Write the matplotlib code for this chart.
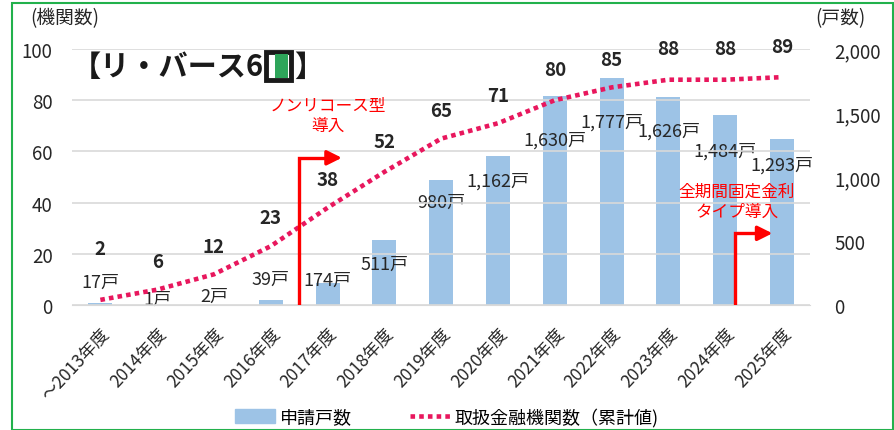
import matplotlib.pyplot as plt
from matplotlib.patches import Rectangle
from matplotlib.ticker import FuncFormatter

plt.rcParams['font.family'] = ['Noto Sans CJK JP', 'DejaVu Sans']

# data
years = ['～2013年度', '2014年度', '2015年度', '2016年度', '2017年度', '2018年度',
         '2019年度', '2020年度', '2021年度', '2022年度', '2023年度', '2024年度', '2025年度']
houses = [17, 1, 2, 39, 174, 511, 980, 1162, 1630, 1777, 1626, 1484, 1293]
banks = [2, 6, 12, 23, 38, 52, 65, 71, 80, 85, 88, 88, 89]

# label placement (right-axis units for houses, left-axis offsets for banks)
house_lab_y = [185, 45, 70, 205, 195, 320, 810, 975, 1295, 1435, 1360, 1205, 1100]
bank_lab_dy = [20, 11, 11, 11, 11, 12, 11, 11, 12, 11, 12, 12, 12]

bar_col = '#9DC3E6'
line_col = '#E8175D'
txt_col = '#262626'

W, H = 894, 431
fig = plt.figure(figsize=(W / 100, H / 100), dpi=100)
ax = fig.add_axes([0.0805, 0.29, 0.826, 0.594])
ax2 = ax.twinx()
ax.set_zorder(ax2.get_zorder() + 1)
ax.patch.set_visible(False)

x = list(range(len(years)))

# bars on right axis
ax2.bar(x, houses, width=0.42, color=bar_col, zorder=2)
ax2.set_ylim(0, 2000)
ax2.set_yticks([0, 500, 1000, 1500, 2000])
ax2.yaxis.set_major_formatter(FuncFormatter(lambda v, p: f'{int(v):,}'))

# line on left axis
dots = (0, (1, 0.9))
ax.plot(x, banks, color=line_col, lw=3.3, linestyle=dots,
        dash_capstyle='butt', zorder=3)
ax.set_ylim(0, 100)
ax.set_yticks([0, 20, 40, 60, 80, 100])
ax.set_xlim(-0.5, len(years) - 0.5)
ax.grid(axis='y', color='#D9D9D9', lw=1.2)
ax.set_axisbelow(True)

for a in (ax, ax2):
    for s in a.spines.values():
        s.set_visible(False)
    a.tick_params(length=0, labelsize=13.5, colors=txt_col)
ax.tick_params(axis='y', pad=14)
ax2.tick_params(axis='y', pad=17)
ax.spines['bottom'].set_visible(True)
ax.spines['bottom'].set_color('#D9D9D9')

ax.set_xticks(x)
ax.set_xticklabels(years, rotation=47, ha='right', va='top',
                   rotation_mode='anchor', fontsize=12.5)
ax.tick_params(axis='x', pad=14)

# data labels
for i in x:
    ax.text(i, banks[i] + bank_lab_dy[i], str(banks[i]), ha='center', va='center',
            fontsize=13.5, fontweight='bold', color=txt_col, zorder=5)
    ax2.text(i, house_lab_y[i], f'{houses[i]:,}戸', ha='center', va='center',
             fontsize=13, color=txt_col, zorder=5)

# red arrows
ax.plot([3.5, 3.5, 4.05], [0, 57.5, 57.5], color='red', lw=2.4, zorder=4,
        solid_joinstyle='miter')
ax.annotate('', xy=(4.3, 57.5), xytext=(4.0, 57.5),
            arrowprops=dict(arrowstyle='-|>', color='red', lw=2.4,
                            mutation_scale=22))
ax.text(4.0, 74, 'ノンリコース型\n導入', ha='center', va='center', color='red',
        fontsize=12, linespacing=1.25)

ax.plot([11.17, 11.17, 11.6], [0, 28, 28], color='red', lw=2.4, zorder=4,
        solid_joinstyle='miter')
ax.annotate('', xy=(11.88, 28), xytext=(11.55, 28),
            arrowprops=dict(arrowstyle='-|>', color='red', lw=2.4,
                            mutation_scale=22))
ax.text(11.2, 40.5, '全期間固定金利\nタイプ導入', ha='center', va='center', color='red',
        fontsize=12, linespacing=1.25)

# axis titles
fig.text(30 / W, 1 - 19 / H, '(機関数)', ha='left', va='center', fontsize=13.5,
         color=txt_col)
fig.text(815 / W, 1 - 19 / H, '(戸数)', ha='left', va='center', fontsize=13.5,
         color=txt_col)

# logo: text + door-shaped "0"
logo_y = 1 - 67 / H
fig.text(72 / W, logo_y, '【リ・バース6', ha='left', va='center', fontsize=21,
         fontweight='bold', color='#1A1A1A')
fig.patches.append(Rectangle((266 / W, 1 - 81 / H), 25 / W, 28 / H,
                             transform=fig.transFigure, facecolor='white',
                             edgecolor='#1A1A1A', lw=3.5))
fig.patches.append(Rectangle((275 / W, 1 - 79 / H), 13 / W, 24 / H,
                             transform=fig.transFigure, facecolor='#2EA55A',
                             edgecolor='none'))
fig.text(294 / W, logo_y, '】', ha='left', va='center', fontsize=21,
         fontweight='bold', color='#1A1A1A')

# legend
h1 = Rectangle((0, 0), 1, 1, color=bar_col)
h2, = ax.plot([], [], color=line_col, lw=3.3, linestyle=dots, dash_capstyle='butt')
fig.legend([h1, h2], ['申請戸数', '取扱金融機関数（累計値)'], loc='center',
           bbox_to_anchor=(0.5, 1 - 418 / H), ncol=2, frameon=False,
           fontsize=13, handlelength=2.2, handleheight=0.8, columnspacing=3.2,
           handletextpad=0.3)

# green frame
fig.patches.append(Rectangle((12 / W, 0.0), 881 / W, 1 - 4 / H,
                             transform=fig.transFigure, fill=False,
                             edgecolor='#22B14C', lw=1.5))

fig.savefig('out.png', dpi=100)
